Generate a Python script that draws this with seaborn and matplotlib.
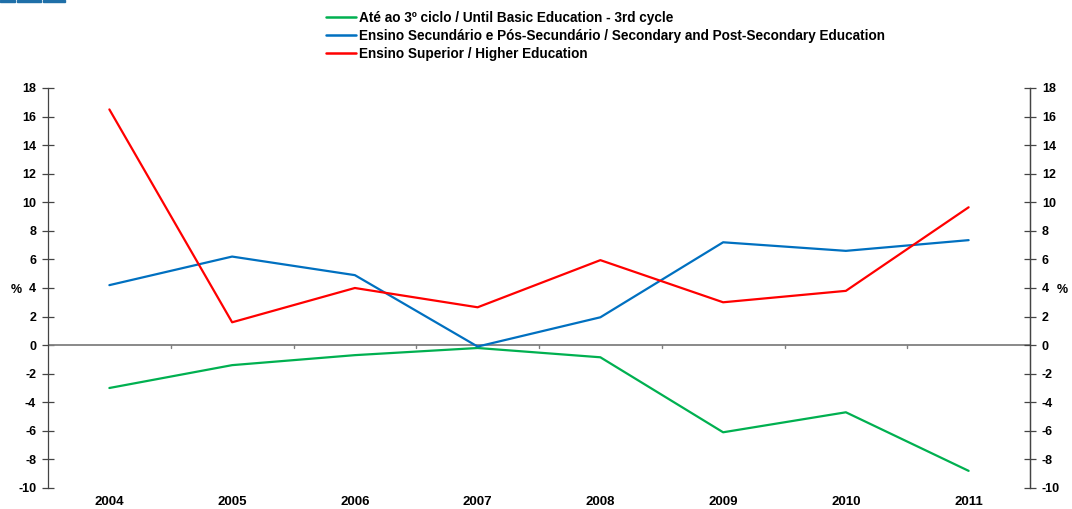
import numpy as np
import pandas as pd
import seaborn as sns
import matplotlib.pyplot as plt
from matplotlib.patches import Rectangle

years = ['2004', '2005', '2006', '2007', '2008', '2009', '2010', '2011']
basic = [-3.0, -1.4, -0.7, -0.2, -0.85, -6.1, -4.7, -8.8]
secondary = [4.2, 6.2, 4.9, -0.1, 1.95, 7.2, 6.6, 7.35]
higher = [16.5, 1.6, 4.0, 2.65, 5.95, 3.0, 3.8, 9.65]

labels = ['Até ao 3º ciclo / Until Basic Education - 3rd cycle',
          'Ensino Secundário e Pós-Secundário / Secondary and Post-Secondary Education',
          'Ensino Superior / Higher Education']
colors = ['#00B050', '#0070C0', '#FF0000']

df = pd.DataFrame({
    'pos': list(range(len(years))) * 3,
    'value': basic + secondary + higher,
    'series': [labels[0]] * 8 + [labels[1]] * 8 + [labels[2]] * 8,
})

sns.set_style('white')
plt.rcParams['font.family'] = ['Liberation Sans', 'DejaVu Sans']
plt.rcParams['font.weight'] = 'bold'
plt.rcParams['axes.unicode_minus'] = False
plt.rcParams['text.color'] = 'black'
plt.rcParams['xtick.color'] = 'black'
plt.rcParams['ytick.color'] = 'black'

fig = plt.figure(figsize=(10.72, 5.09), dpi=100)
ax = fig.add_axes([48 / 1072, 1 - 488 / 509, (1030 - 48) / 1072, 400 / 509])

sns.lineplot(data=df, x='pos', y='value', hue='series', hue_order=labels,
             palette=colors, linewidth=1.6, ax=ax, legend=False)

ax.set_xlim(-0.5, len(years) - 0.5)
ax.set_ylim(-10, 18)
ax.set_yticks(np.arange(-10, 19, 2))
ax.set_xticks(range(len(years)))
ax.set_xticklabels(years, fontsize=9.5, fontweight='bold')
ax.tick_params(axis='x', length=0, pad=6)
ax.tick_params(axis='y', direction='inout', length=9, width=0.9, color='#444444',
               labelsize=9, pad=4)
ax.set_xlabel('')
ax.set_ylabel('')
for s in ['top', 'bottom']:
    ax.spines[s].set_visible(False)
for s in ['left', 'right']:
    ax.spines[s].set_color('#444444')
    ax.spines[s].set_linewidth(0.9)

# zero line with category boundary ticks
ax.axhline(0, color='#808080', linewidth=1.3, zorder=1)
for k in range(1, len(years)):
    ax.plot([k - 0.5, k - 0.5], [0, -0.2], color='#808080', linewidth=1.0, zorder=1)

ax2 = ax.twinx()
ax2.set_ylim(-10, 18)
ax2.set_yticks(np.arange(-10, 19, 2))
ax2.tick_params(axis='y', direction='inout', length=9, width=0.9, color='#444444',
                labelsize=9, pad=4)
for s in ['top', 'bottom', 'left']:
    ax2.spines[s].set_visible(False)
ax2.spines['right'].set_color('#444444')
ax2.spines['right'].set_linewidth(0.9)

fig.text(11 / 1072, 1 - 290 / 509, '%', fontsize=9, fontweight='bold',
         ha='left', va='center')
fig.text(1057 / 1072, 1 - 290 / 509, '%', fontsize=9, fontweight='bold',
         ha='left', va='center')

# legend
handles = [plt.Line2D([], [], color=c, linewidth=1.8) for c in colors]
fig.legend(handles, labels, loc='upper left', bbox_to_anchor=(326 / 1072, 1 - 11 / 509),
           frameon=False, fontsize=9.8, handlelength=2.2, handletextpad=0.25,
           labelspacing=0.28, borderaxespad=0, borderpad=0)

# logo fragments at top-left
for x0, x1 in [(0, 15), (17, 41), (43, 65)]:
    fig.patches.append(Rectangle((x0 / 1072, 1 - 2 / 509), (x1 - x0) / 1072, 2 / 509,
                                 transform=fig.transFigure, color='#1F6FA8'))

fig.savefig('out.png', dpi=100)
